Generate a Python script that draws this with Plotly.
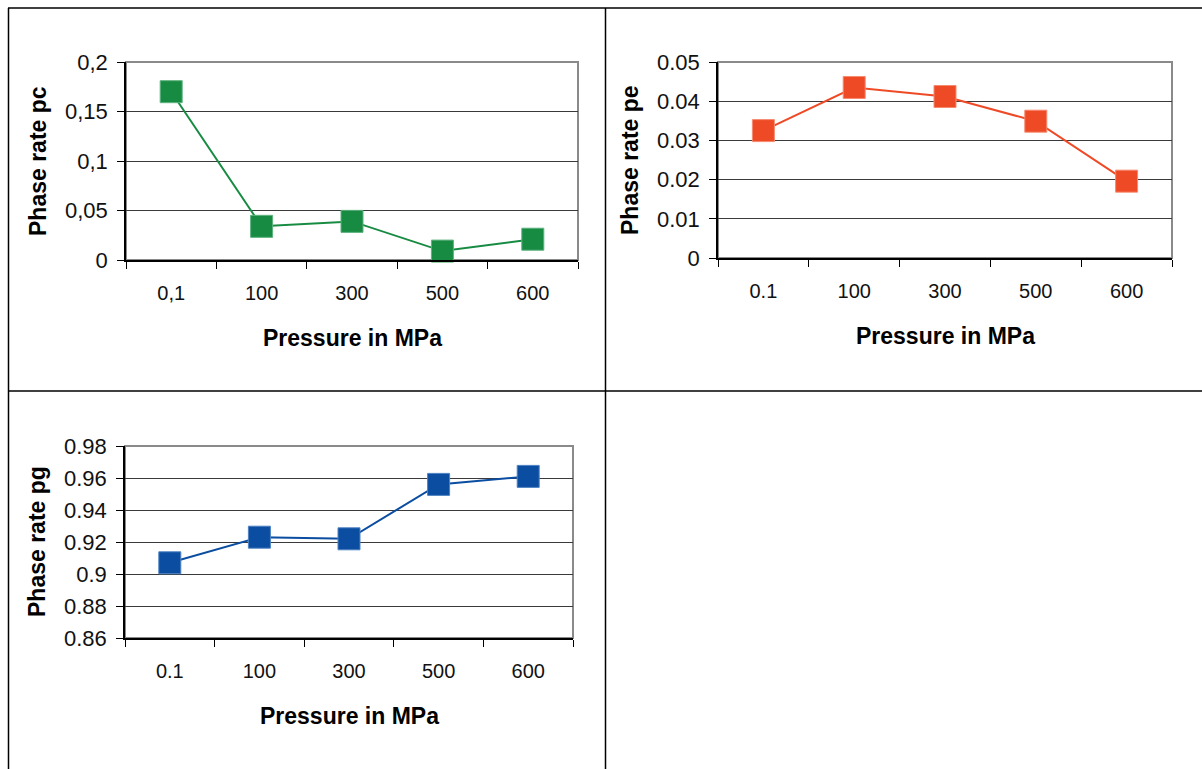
import plotly.graph_objects as go

W, H = 1202, 769

# ---- data ----
categories_pc = ["0,1", "100", "300", "500", "600"]
categories = ["0.1", "100", "300", "500", "600"]
pc_values = [0.170, 0.034, 0.039, 0.009, 0.021]
pe_values = [0.0325, 0.0435, 0.0412, 0.0349, 0.0196]
pg_values = [0.907, 0.923, 0.922, 0.956, 0.961]

pc_ticks = [0, 0.05, 0.1, 0.15, 0.2]
pc_ticklabels = ["0", "0,05", "0,1", "0,15", "0,2"]
pe_ticks = [0, 0.01, 0.02, 0.03, 0.04, 0.05]
pe_ticklabels = ["0", "0.01", "0.02", "0.03", "0.04", "0.05"]
pg_ticks = [0.86, 0.88, 0.90, 0.92, 0.94, 0.96, 0.98]
pg_ticklabels = ["0.86", "0.88", "0.9", "0.92", "0.94", "0.96", "0.98"]

x_title = "Pressure in MPa"
y_titles = ["Phase rate pc", "Phase rate pe", "Phase rate pg"]

# ---- style ----
FONT = "Liberation Sans, Arial, sans-serif"
colors = ["#188B42", "#EF4A26", "#0B4DA0"]
rims = ["#5DB27E", "#F68A70", "#4F82C4"]

# plot areas in pixels: (left, right, top, bottom)
boxes = [(126, 578, 62, 260), (718, 1172, 62, 258), (125, 573, 446, 638)]

def px_x(v):
    return v / W

def px_y(v):
    return 1 - v / H

fig = go.Figure()

series = [(categories_pc, pc_values, pc_ticks, pc_ticklabels, [0, 0.2]),
          (categories, pe_values, pe_ticks, pe_ticklabels, [0, 0.05]),
          (categories, pg_values, pg_ticks, pg_ticklabels, [0.86, 0.98])]

layout = {}
annotations = []
shapes = []
for i, (cats, vals, tv, tt, yr) in enumerate(series):
    n = "" if i == 0 else str(i + 1)
    l, r, t, b = boxes[i]
    fig.add_trace(go.Scatter(
        x=cats, y=vals, mode="lines+markers",
        xaxis="x" + n, yaxis="y" + n,
        line=dict(color=colors[i], width=2),
        marker=dict(symbol="square", size=22, color=colors[i],
                    line=dict(color=rims[i], width=1)),
        showlegend=False, cliponaxis=False,
    ))
    layout["xaxis" + n] = dict(
        domain=[px_x(l), px_x(r)], anchor="y" + n, automargin=False,
        type="category", categoryorder="array", categoryarray=cats,
        range=[-0.5, 4.5], tickson="boundaries",
        ticks="outside", ticklen=7, tickcolor="black", tickwidth=1,
        showline=True, linecolor="black", linewidth=1.5,
        showgrid=False, zeroline=False,
        tickfont=dict(family=FONT, size=20, color="#111"),
        ticklabelstandoff=14,
    )
    layout["yaxis" + n] = dict(
        domain=[px_y(b), px_y(t)], anchor="x" + n, automargin=False,
        range=yr, tickvals=tv, ticktext=tt,
        ticks="outside", ticklen=7, tickcolor="black", tickwidth=1,
        showline=True, linecolor="black", linewidth=1.5,
        showgrid=True, gridcolor="#3a3a3a", gridwidth=1,
        zeroline=False,
        tickfont=dict(family=FONT, size=22, color="#111"),
        ticklabelstandoff=5,
    )
    # gray plot frame (top/right)
    shapes.append(dict(type="rect", xref="x" + n + " domain", yref="y" + n + " domain",
                       x0=0, x1=1, y0=0, y1=1, line=dict(color="#8a8a8a", width=2),
                       layer="below"))
    # axis titles
    annotations.append(dict(
        text="<b>" + x_title + "</b>", xref="paper", yref="paper",
        x=px_x((l + r) / 2), y=px_y(b + 78), xanchor="center", yanchor="middle",
        showarrow=False, font=dict(family=FONT, size=23, color="black")))
    annotations.append(dict(
        text="<b>" + y_titles[i] + "</b>", xref="paper", yref="paper",
        x=px_x(l - 88), y=px_y((t + b) / 2), xanchor="center", yanchor="middle",
        textangle=-90, showarrow=False,
        font=dict(family=FONT, size=23, color="black")))

# table borders
def hline(y, x0, x1):
    return dict(type="line", xref="paper", yref="paper",
                x0=px_x(x0), x1=px_x(x1), y0=px_y(y), y1=px_y(y),
                line=dict(color="black", width=1.5))

def vline(x, y0, y1):
    return dict(type="line", xref="paper", yref="paper",
                x0=px_x(x), x1=px_x(x), y0=px_y(y0), y1=px_y(y1),
                line=dict(color="black", width=1.5))

shapes += [hline(8, 8, 1202), hline(391, 8, 1202),
           vline(8.5, 8, 769), vline(605.5, 8, 769)]

fig.update_layout(
    width=W, height=H,
    margin=dict(l=0, r=0, t=0, b=0, pad=0, autoexpand=False),
    paper_bgcolor="white", plot_bgcolor="white",
    font=dict(family=FONT, color="black"),
    shapes=shapes, annotations=annotations, **layout)

fig.write_html("out.html")
